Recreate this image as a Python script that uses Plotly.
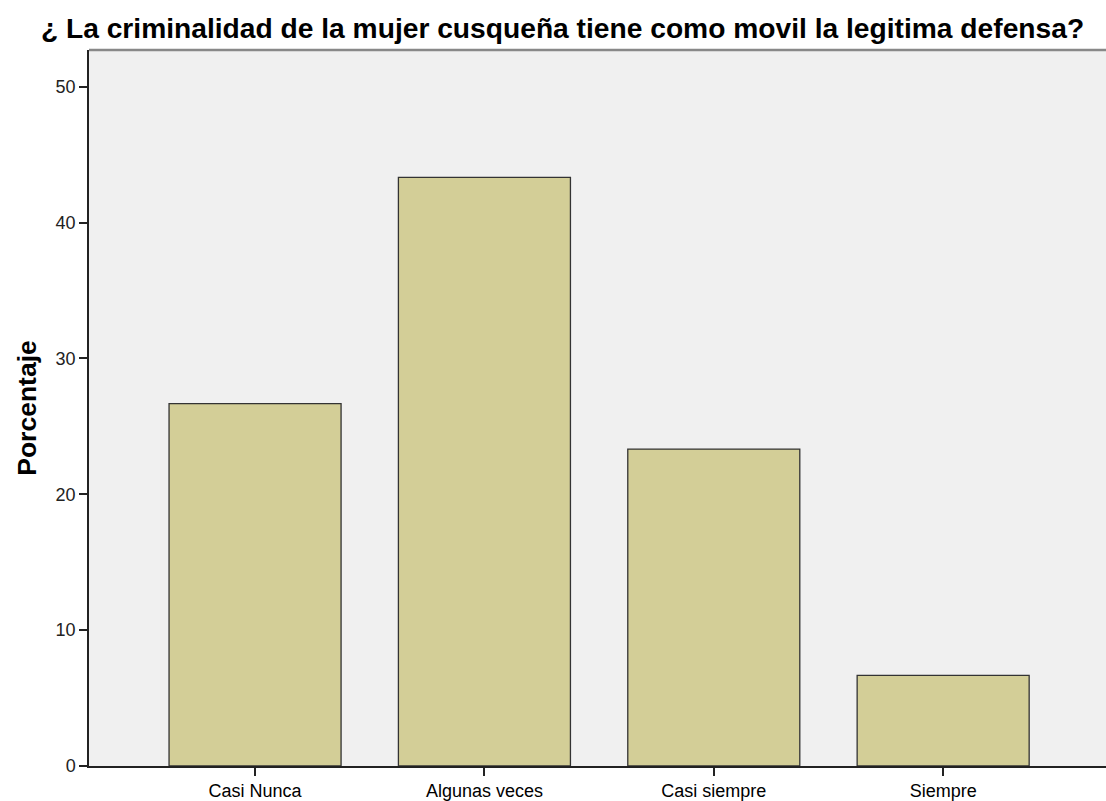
import plotly.graph_objects as go

categories = ["Casi Nunca", "Algunas veces", "Casi siempre", "Siempre"]
porcentaje = [26.67, 43.33, 23.33, 6.67]
y_ticks = [0, 10, 20, 30, 40, 50]

fig = go.Figure()
fig.add_trace(go.Bar(
    x=list(range(len(categories))),
    y=porcentaje,
    width=0.75,
    marker=dict(color="#D3CE97", line=dict(color="#333333", width=1.3)),
    hoverinfo="skip",
))

fig.update_layout(
    width=1106, height=801,
    margin=dict(l=89, r=0, t=50, b=35),
    paper_bgcolor="white",
    plot_bgcolor="#F0F0F0",
    showlegend=False,
    title=dict(
        text="¿ La criminalidad de la mujer cusqueña tiene como movil la legitima defensa?",
        x=0.5086, xanchor="center", y=1 - 28 / 801, yanchor="middle",
        font=dict(family="Liberation Sans, Arial", size=28.2, color="black", weight="bold"),
    ),
    font=dict(family="Liberation Sans, Arial", color="black"),
)

fig.update_xaxes(
    range=[-0.724, 3.71],
    automargin=False,
    tickmode="array",
    tickvals=list(range(len(categories))),
    ticktext=categories,
    ticks="outside", ticklen=8, tickwidth=1.5, tickcolor="#222",
    showline=True, linecolor="#222", linewidth=1.5,
    showgrid=False, zeroline=False,
    tickfont=dict(size=18, color="black"),
)
fig.update_yaxes(
    range=[0, 52.7],
    automargin=False,
    tickmode="array",
    tickvals=y_ticks,
    ticks="outside", ticklen=8, tickwidth=1.5, tickcolor="#222",
    showline=True, linecolor="#222", linewidth=1.5,
    showgrid=False, zeroline=False,
    tickfont=dict(size=18, color="#222"),
    title=dict(text="Porcentaje", font=dict(size=26.5, color="black", weight="bold"), standoff=11),
)

fig.add_shape(type="line", xref="paper", yref="paper", x0=0, x1=1, y0=1, y1=1,
              line=dict(color="#888888", width=2.5))

fig.write_html("out.html", config={"displayModeBar": False},
               post_script="document.body.style.margin='0';")
